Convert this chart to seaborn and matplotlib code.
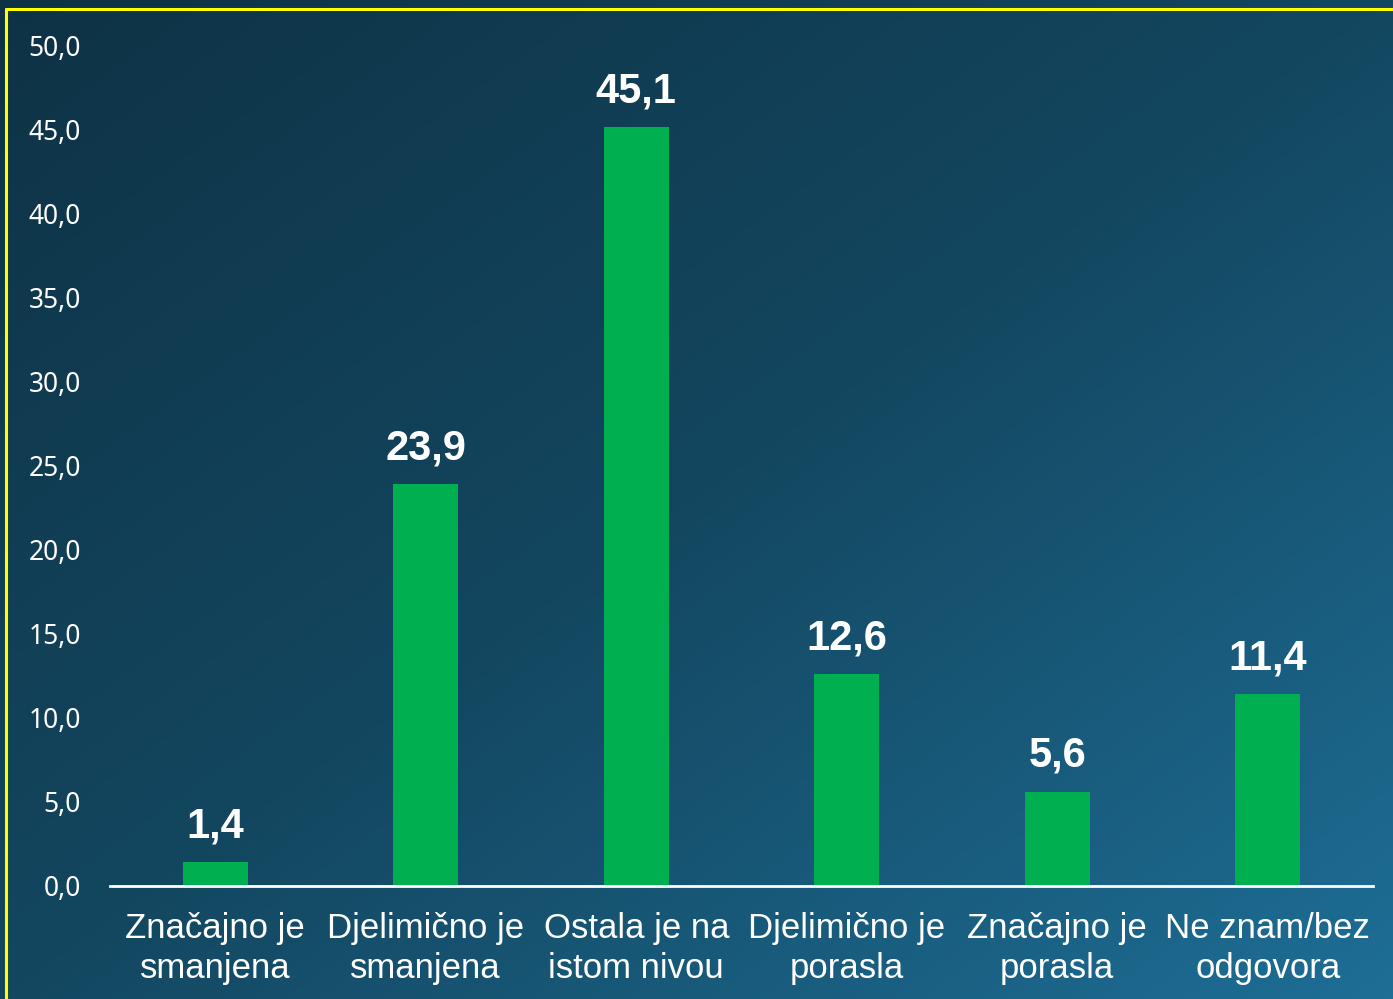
import numpy as np
import pandas as pd
import matplotlib
matplotlib.use("Agg")
import matplotlib.pyplot as plt
import seaborn as sns
from matplotlib.colors import LinearSegmentedColormap
from matplotlib.lines import Line2D

categories = ["Značajno je\nsmanjena", "Djelimično je\nsmanjena", "Ostala je na\nistom nivou",
              "Djelimično je\nporasla", "Značajno je\nporasla", "Ne znam/bez\nodgovora"]
values = [1.4, 23.9, 45.1, 12.6, 5.6, 11.4]
yticks = [0, 5, 10, 15, 20, 25, 30, 35, 40, 45, 50]

sns.set_theme(style="white")
plt.rcParams['font.family'] = ['Liberation Sans', 'DejaVu Sans']

W, H = 1393, 999
fig = plt.figure(figsize=(W / 100, H / 100), dpi=100)

# background gradient: dark top-left, lighter bottom-right
bg = fig.add_axes([0, 0, 1, 1])
xx, yy = np.meshgrid(np.linspace(0, 1, 400), np.linspace(0, 1, 400))  # yy: 0 at top row
t = 0.5 * xx + 0.5 * yy
cmap = LinearSegmentedColormap.from_list("bg", [(0, "#0e3245"), (0.5, "#134760"), (1, "#1e6e96")])
bg.imshow(t, cmap=cmap, aspect="auto", extent=[0, 1, 0, 1], origin="upper", vmin=0, vmax=1)
bg.set_axis_off()
bg.set_zorder(0)

# yellow border lines
fig.add_artist(Line2D([6 / W, 6 / W], [0, 1 - 9 / H], color="#ffff00", lw=2.2, transform=fig.transFigure))
fig.add_artist(Line2D([6 / W, 1], [1 - 9 / H, 1 - 9 / H], color="#ffff00", lw=2.2, transform=fig.transFigure))

ax = fig.add_axes([110 / W, (H - 886) / H, (1373 - 110) / W, (886 - 45) / H])
ax.set_zorder(1)
ax.patch.set_alpha(0)

df = pd.DataFrame({"cat": categories, "val": values})
sns.barplot(data=df, x="cat", y="val", color="#00b050", saturation=1, width=0.31,
            linewidth=0, ax=ax)

ax.set_ylim(0, 50)
ax.set_xlim(-0.5, len(categories) - 0.5)
ax.set_yticks(yticks)
ax.set_yticklabels([f"{v:.1f}".replace(".", ",") for v in yticks],
                   fontsize=19, color="white", family=['Noto Sans', 'DejaVu Sans'])
ax.tick_params(axis="y", length=0, pad=21)
ax.tick_params(axis="x", length=0, pad=19, labelsize=25, labelcolor="white")
for lab in ax.get_xticklabels():
    lab.set_linespacing(1.25)
ax.set_xlabel("")
ax.set_ylabel("")
for s in ["top", "right", "left"]:
    ax.spines[s].set_visible(False)
ax.spines["bottom"].set_color("white")
ax.spines["bottom"].set_linewidth(2)

for i, v in enumerate(values):
    ax.text(i, v + 0.95, f"{v:.1f}".replace(".", ","), ha="center", va="bottom",
            fontsize=30, fontweight="bold", color="white")

fig.savefig("out.png", dpi=100)
